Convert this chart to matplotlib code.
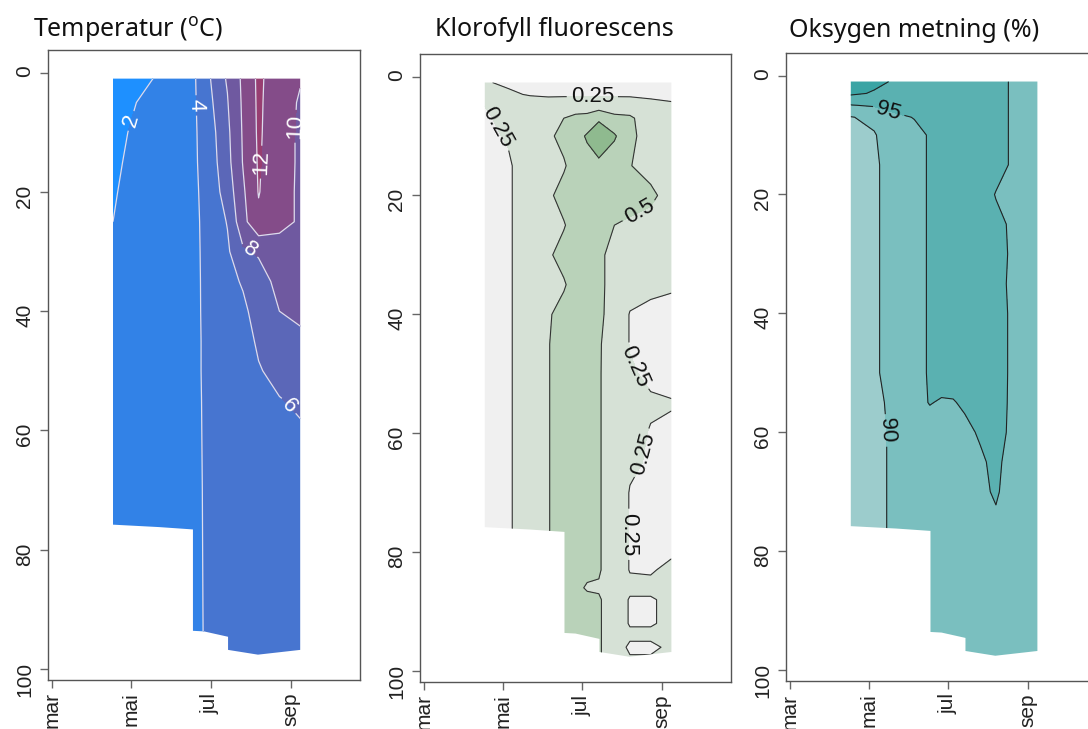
import numpy as np
import matplotlib
matplotlib.use('Agg')
import matplotlib.pyplot as plt
from matplotlib.patches import Polygon

# sampling days (day of year), grid columns shared by all panels
days = [107, 125, 142, 156, 168, 177, 186, 195, 207, 219, 235, 251]

# lower edge of the sampled area
bottom_days = [107, 142, 168.5, 168.5, 177, 195.5, 195.5, 218.5, 251]
bottom_depths = [75.8, 76.2, 76.6, 93.6, 93.7, 94.6, 96.8, 97.6, 96.8]
top_depth = 1

month_days = [60, 121, 182, 244]
month_labels = ['mar', 'mai', 'jul', 'sep']
depth_ticks = [0, 20, 40, 60, 80, 100]

# Temperatur (C), rows = depth
temp_depths = [1, 5, 10, 15, 20, 25, 30, 35, 40, 45, 50, 55, 60, 70, 80, 90, 98]
temp_values = [
    [1.20, 1.85, 2.05, 3.0, 3.80, 4.49, 7.2, 8.15, 10.4, 12.40, 10.8, 10.10],
    [1.40, 2.00, 2.40, 3.1, 3.80, 4.40, 6.5, 7.90, 10.3, 12.35, 10.7, 9.85],
    [1.60, 2.23, 2.70, 3.2, 3.80, 4.30, 6.0, 7.60, 10.2, 12.30, 10.6, 9.80],
    [1.75, 2.36, 2.90, 3.3, 3.80, 4.25, 5.8, 7.40, 10.1, 12.20, 10.6, 9.80],
    [1.85, 2.60, 3.00, 3.4, 3.75, 4.21, 5.5, 6.90, 9.7, 12.10, 10.5, 9.80],
    [2.00, 2.80, 3.10, 3.4, 3.70, 4.18, 5.2, 6.10, 9.4, 11.60, 10.5, 9.80],
    [2.30, 2.90, 3.20, 3.5, 3.70, 4.15, 5.0, 5.70, 7.7, 8.20, 9.2, 9.30],
    [2.50, 3.00, 3.20, 3.5, 3.70, 4.13, 4.9, 5.40, 6.2, 7.30, 8.5, 8.80],
    [2.60, 3.00, 3.30, 3.5, 3.70, 4.12, 4.8, 5.00, 5.6, 6.80, 8.0, 8.30],
    [2.70, 3.10, 3.30, 3.5, 3.70, 4.10, 4.7, 4.90, 5.2, 6.30, 7.3, 7.70],
    [2.80, 3.10, 3.30, 3.5, 3.70, 4.10, 4.7, 4.80, 5.0, 5.85, 6.6, 7.00],
    [2.90, 3.10, 3.30, 3.5, 3.70, 4.08, 4.7, 4.80, 4.9, 5.50, 5.9, 6.30],
    [3.00, 3.20, 3.40, 3.5, 3.70, 4.07, 4.6, 4.70, 4.8, 5.20, 5.5, 5.80],
    [3.00, 3.20, 3.40, 3.5, 3.70, 4.05, 4.6, 4.70, 4.7, 5.00, 5.1, 5.20],
    [3.00, 3.20, 3.40, 3.5, 3.70, 4.04, 4.6, 4.60, 4.6, 4.80, 4.9, 4.90],
    [3.00, 3.20, 3.40, 3.5, 3.70, 4.03, 4.6, 4.60, 4.6, 4.70, 4.8, 4.70],
    [3.00, 3.20, 3.40, 3.5, 3.70, 4.02, 4.6, 4.60, 4.6, 4.60, 4.7, 4.60],
]
temp_levels = [0, 2, 4, 6, 8, 10, 12, 14]

# Klorofyll fluorescens
chl_depths = [1, 3, 5, 7, 10, 15, 20, 25, 30, 35, 40, 45, 50, 55, 60, 65, 70, 75,
              80, 83, 86, 88, 92, 94, 96, 98]
chl_values = [
    [.26, .23, .22, .20, .20, .20, .20, .20, .20, .20, .20, .20],
    [.26, .27, .24, .22, .22, .22, .22, .22, .22, .22, .22, .22],
    [.25, .30, .33, .36, .38, .38, .38, .40, .38, .37, .30, .27],
    [.23, .29, .36, .42, .50, .56, .58, .70, .56, .54, .36, .31],
    [.20, .27, .37, .45, .58, .65, .78, .95, .78, .55, .40, .35],
    [.20, .22, .38, .48, .47, .62, .65, .68, .60, .51, .40, .35],
    [.19, .22, .38, .45, .60, .62, .62, .62, .58, .60, .56, .38],
    [.19, .22, .38, .48, .48, .62, .62, .60, .50, .46, .40, .35],
    [.19, .22, .38, .46, .60, .62, .62, .55, .42, .38, .33, .30],
    [.19, .22, .38, .48, .47, .62, .62, .55, .42, .33, .28, .27],
    [.19, .22, .38, .47, .60, .62, .62, .55, .40, .24, .22, .20],
    [.19, .22, .38, .49, .60, .62, .62, .52, .40, .24, .20, .20],
    [.19, .22, .38, .49, .60, .62, .62, .52, .38, .27, .22, .20],
    [.19, .22, .38, .49, .60, .62, .62, .52, .38, .30, .27, .26],
    [.19, .22, .38, .49, .60, .62, .62, .52, .38, .30, .24, .22],
    [.19, .22, .38, .49, .60, .62, .62, .52, .38, .28, .23, .20],
    [.19, .22, .38, .49, .60, .62, .62, .52, .38, .24, .22, .20],
    [.19, .22, .38, .49, .60, .62, .62, .52, .38, .24, .20, .20],
    [.19, .22, .38, .49, .60, .62, .62, .52, .38, .24, .22, .22],
    [.19, .22, .38, .49, .60, .62, .62, .52, .38, .24, .23, .30],
    [.19, .22, .38, .49, .60, .62, .45, .48, .40, .30, .30, .32],
    [.19, .22, .38, .49, .60, .62, .62, .52, .40, .23, .23, .30],
    [.19, .22, .38, .49, .60, .62, .62, .52, .40, .23, .23, .30],
    [.19, .22, .38, .49, .60, .62, .62, .52, .40, .30, .30, .32],
    [.19, .22, .38, .49, .60, .62, .62, .52, .40, .20, .20, .30],
    [.19, .22, .38, .49, .60, .62, .62, .52, .40, .28, .28, .30],
]
chl_levels = [0, 0.25, 0.5, 0.75, 1.0]

# Oksygen metning (%)
oxy_depths = [1, 3, 5, 7, 10, 15, 20, 25, 30, 35, 40, 45, 50, 55, 60, 65,
              70, 75, 80, 90, 98]
oxy_values = [
    [101.2, 101.0, 99.5, 99.0, 99.0, 98.5, 98.0, 97.5, 97.0, 96.5, 94.0, 93.5],
    [100.8, 99.6, 98.0, 98.0, 98.5, 98.0, 97.5, 97.5, 97.0, 96.5, 94.0, 93.5],
    [94.8, 95.5, 96.0, 96.5, 97.0, 97.5, 97.5, 97.5, 97.0, 96.5, 94.0, 93.5],
    [89.8, 91.0, 94.5, 95.1, 96.5, 97.0, 97.0, 97.0, 97.0, 96.5, 94.0, 93.5],
    [88.5, 89.7, 92.5, 94.3, 95.2, 96.5, 96.8, 97.0, 97.0, 96.5, 94.0, 93.5],
    [88.0, 89.5, 91.5, 94.3, 95.2, 96.5, 96.8, 97.0, 97.0, 96.5, 94.0, 93.5],
    [88.0, 89.5, 91.5, 94.3, 95.2, 96.5, 96.8, 97.0, 97.0, 94.8, 94.0, 93.5],
    [88.0, 89.5, 91.5, 94.3, 95.2, 96.5, 96.8, 97.0, 97.0, 96.0, 94.0, 93.5],
    [88.0, 89.5, 91.5, 94.3, 95.2, 96.5, 96.8, 97.0, 97.0, 96.3, 94.0, 93.5],
    [88.0, 89.5, 91.5, 94.3, 95.2, 96.5, 96.8, 97.0, 97.0, 96.0, 94.0, 93.5],
    [88.0, 89.5, 91.5, 94.3, 95.2, 96.5, 96.8, 97.0, 97.0, 96.3, 94.0, 93.5],
    [88.0, 89.5, 91.5, 94.3, 95.2, 96.5, 96.8, 97.0, 97.0, 96.3, 94.0, 93.5],
    [88.0, 89.5, 91.5, 94.3, 95.2, 96.0, 96.5, 97.0, 97.0, 96.3, 94.0, 93.5],
    [88.0, 89.3, 90.8, 94.3, 95.1, 94.8, 94.8, 95.5, 96.5, 96.2, 94.0, 93.5],
    [88.0, 89.2, 90.6, 93.5, 94.0, 94.0, 93.8, 94.2, 95.4, 96.0, 94.0, 93.5],
    [88.0, 89.2, 90.6, 93.5, 94.0, 94.0, 93.8, 94.0, 94.5, 95.8, 93.0, 93.5],
    [88.0, 89.2, 90.6, 93.5, 94.0, 94.0, 93.8, 94.0, 94.3, 95.4, 93.0, 93.5],
    [88.0, 89.2, 90.6, 93.5, 94.0, 94.0, 93.8, 94.0, 94.2, 94.5, 93.0, 93.5],
    [88.0, 89.2, 90.6, 93.5, 94.0, 94.0, 93.8, 94.0, 94.0, 94.0, 93.0, 93.5],
    [88.0, 89.2, 90.6, 93.5, 94.0, 94.0, 93.8, 94.0, 94.0, 94.0, 93.0, 93.5],
    [88.0, 89.2, 90.6, 93.5, 94.0, 94.0, 93.8, 94.0, 94.0, 94.0, 93.0, 93.5],
]
oxy_levels = [85, 90, 95, 100, 105]

plt.rcParams['font.family'] = ['Liberation Sans', 'DejaVu Sans']
plt.rcParams['mathtext.fontset'] = 'custom'
plt.rcParams['mathtext.rm'] = 'Noto Sans'

W, H = 1088, 729
fig = plt.figure(figsize=(W / 100, H / 100), dpi=100)


def make_axes(left, top, right, bottom):
    ax = fig.add_axes([left / W, 1 - bottom / H, (right - left) / W, (bottom - top) / H])
    ax.set_xlim(57, 297)
    ax.set_ylim(101.85, -3.8)
    ax.set_xticks(month_days, month_labels)
    ax.set_yticks(depth_ticks, [str(d) for d in depth_ticks])
    for lab in ax.get_xticklabels() + ax.get_yticklabels():
        lab.set_fontsize(15)
        lab.set_color('#222222')
        lab.set_rotation(90)
    ax.tick_params(length=6, width=1, color='#666666', pad=3)
    ax.tick_params(axis='y', pad=4)
    for s in ax.spines.values():
        s.set_color('#555555')
        s.set_linewidth(1)
    return ax


def draw_panel(ax, depths, values, levels, fills, line_color, line_width,
               text_color, label_xy):
    X, Y = np.meshgrid(days, depths)
    Z = np.array(values)
    xs = [days[0], days[-1]] + bottom_days[::-1]
    ys = [top_depth, top_depth] + bottom_depths[::-1]
    area = Polygon(list(zip(xs, ys)), closed=True, facecolor='none', edgecolor='none')
    ax.add_patch(area)
    cf = ax.contourf(X, Y, Z, levels=levels, colors=fills)
    cf.set_clip_path(area)
    cl = ax.contour(X, Y, Z, levels=levels, colors=line_color, linewidths=line_width)
    cl.set_clip_path(area)
    ax.clabel(cl, fmt='%g', manual=label_xy, inline=True, fontsize=16,
              colors=text_color, inline_spacing=4)


temp_fills = ['#1E90FF', '#3282E7', '#4775D0', '#5B67B8', '#6F59A0', '#844C89', '#983E71']
ax1 = make_axes(48, 50, 360, 680)
draw_panel(ax1, temp_depths, temp_values, temp_levels, temp_fills, '#DCDCEE', 0.9, 'white',
           [(119.5, 8), (170.6, 5.5), (220, 15), (248, 9), (213, 29.5), (241.5, 56)])

chl_fills = ['#F0F0F0', '#D6E1D6', '#B9D2B9', '#8FBA8F']
ax2 = make_axes(420, 54, 731, 682)
draw_panel(ax2, chl_depths, chl_values, chl_levels, chl_fills, '#333333', 0.8, '#111111',
           [(113, 9), (190, 3.4), (227, 22.9), (227, 48.5), (234.8, 63.6), (234.8, 77)])

oxy_fills = ['#9CCCCC', '#7ABFBF', '#5AB1B1', '#3AA4A4']
ax3 = make_axes(786, 53, 1097, 681)
draw_panel(ax3, oxy_depths, oxy_values, oxy_levels, oxy_fills, '#222222', 0.8, '#111111',
           [(136.6, 5.7), (134.3, 59.7)])

title_font = dict(family='Noto Sans', fontsize=18, color='#111111', va='baseline', ha='left')
fig.text(33 / W, 1 - 37 / H, r'Temperatur ($^{\mathrm{o}}$C)', **title_font)
fig.text(435 / W, 1 - 36 / H, 'Klorofyll fluorescens', **title_font)
fig.text(789 / W, 1 - 37 / H, 'Oksygen metning (%)', **title_font)

fig.savefig('out.png', dpi=100)
